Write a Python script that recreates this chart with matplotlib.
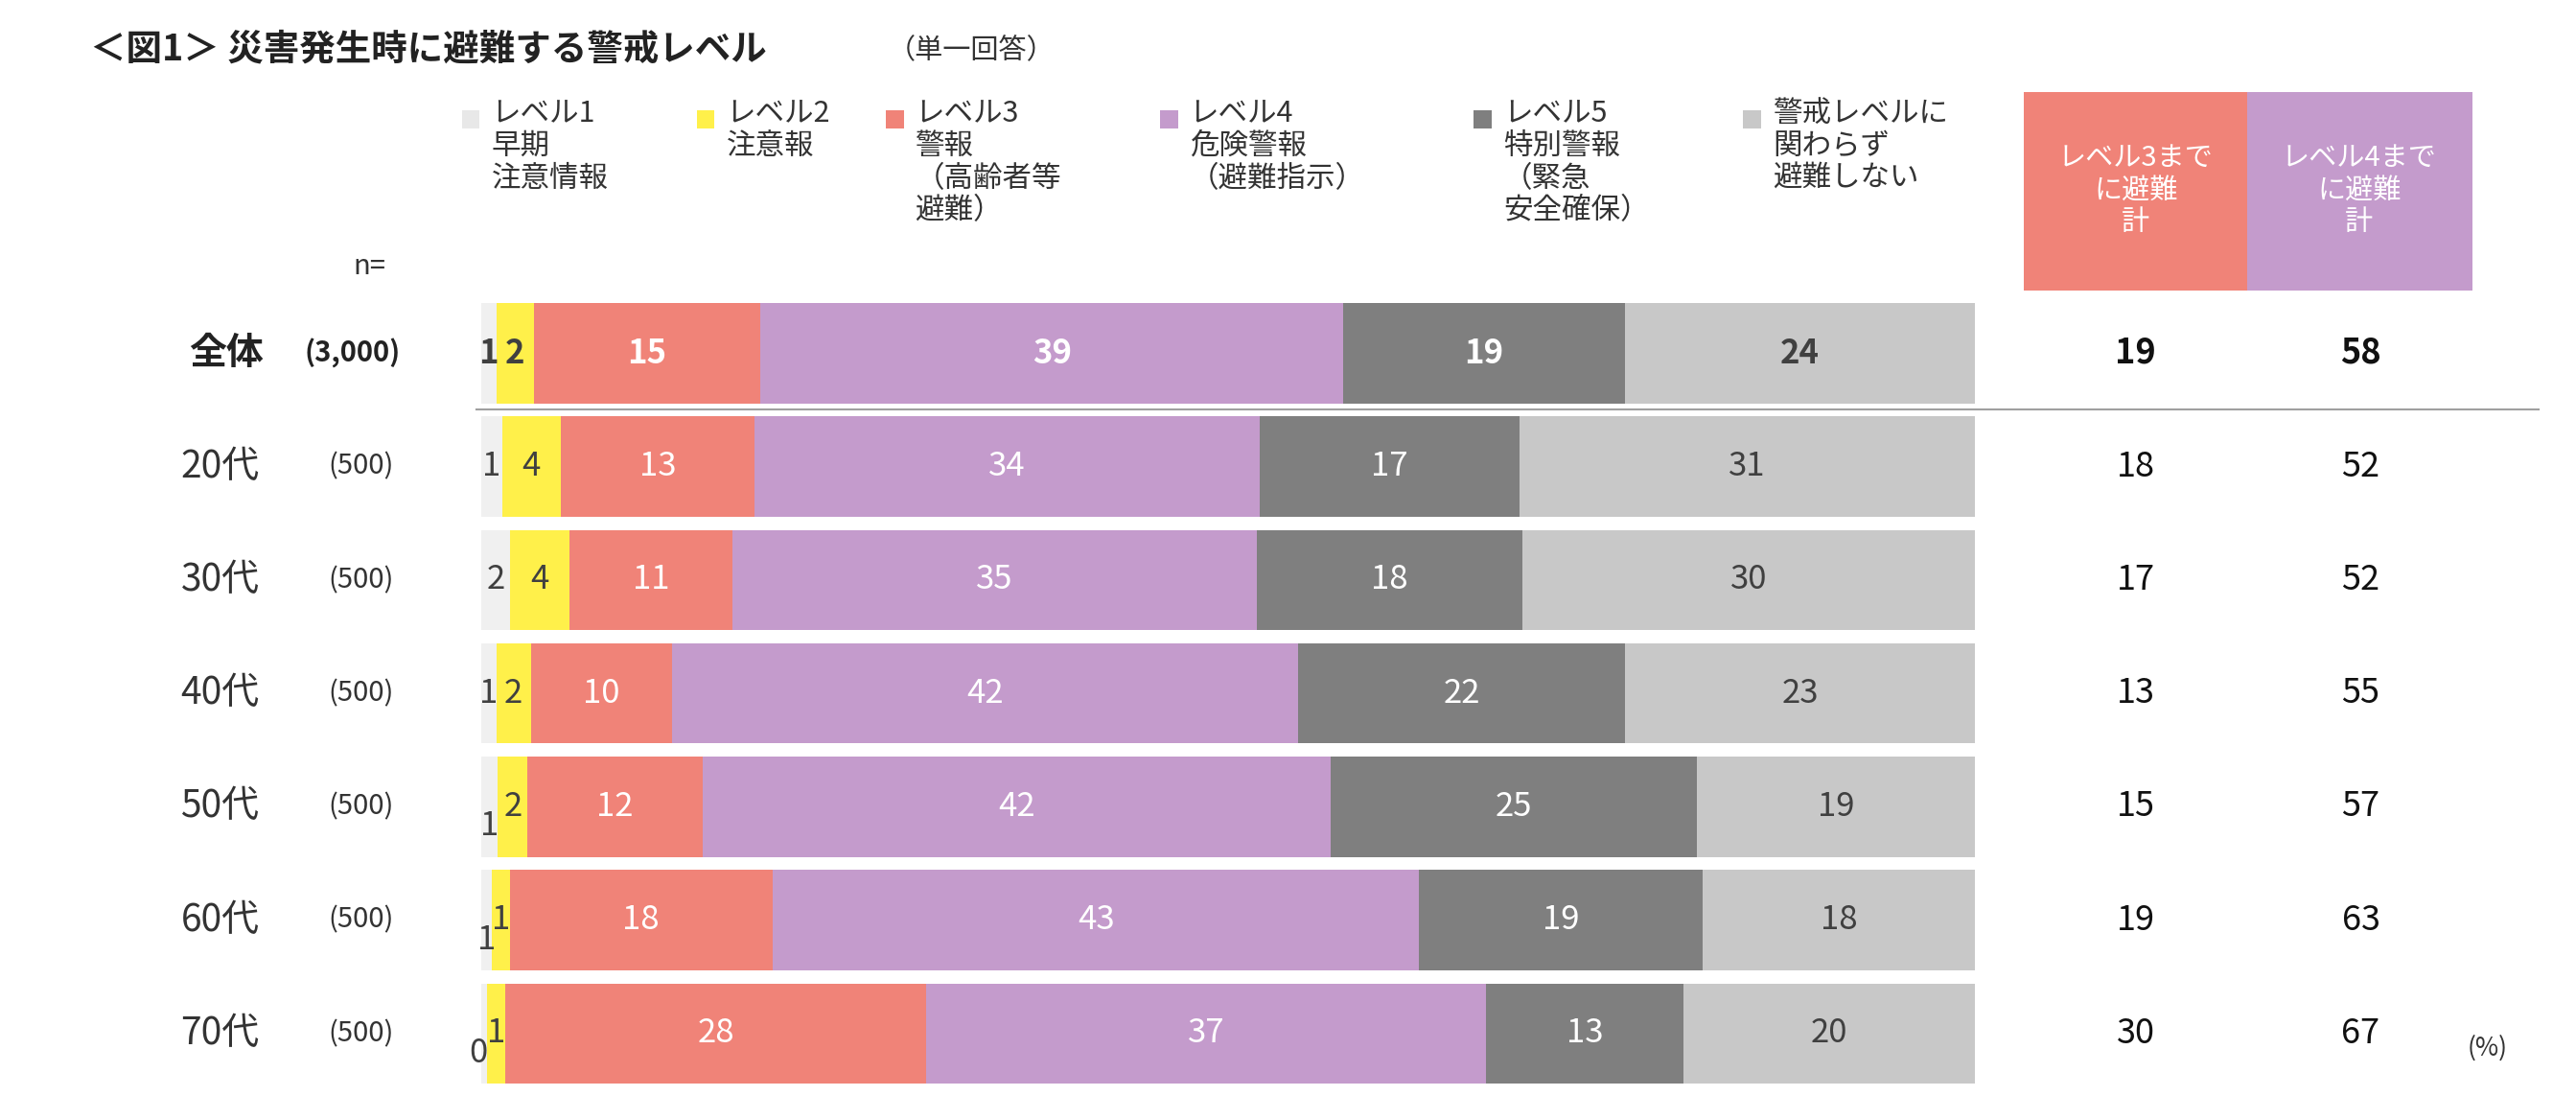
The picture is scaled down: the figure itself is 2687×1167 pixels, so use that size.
import matplotlib
matplotlib.use("Agg")
import matplotlib.pyplot as plt
from matplotlib.patches import Rectangle

plt.rcParams['font.family'] = ['Noto Sans CJK JP', 'DejaVu Sans']

rows = ["全体", "20代", "30代", "40代", "50代", "60代", "70代"]
ns = ["(3,000)", "(500)", "(500)", "(500)", "(500)", "(500)", "(500)"]
series = ["レベル1\n早期\n注意情報", "レベル2\n注意報", "レベル3\n警報\n（高齢者等\n避難）",
          "レベル4\n危険警報\n（避難指示）", "レベル5\n特別警報\n（緊急\n安全確保）", "警戒レベルに\n関わらず\n避難しない"]
# estimated shares (for widths)
vals = [
    [1.0, 2.5, 15.2, 39.0, 18.9, 23.4],
    [1.4, 3.9, 13.0, 33.8, 17.4, 30.5],
    [1.9, 4.0, 10.9, 35.1, 17.8, 30.3],
    [1.0, 2.3, 9.5, 41.9, 21.9, 23.4],
    [1.1, 2.0, 11.7, 42.1, 24.5, 18.6],
    [0.7, 1.2, 17.6, 43.3, 19.0, 18.2],
    [0.4, 1.2, 28.2, 37.5, 13.2, 19.5],
]
labels = [
    [1, 2, 15, 39, 19, 24],
    [1, 4, 13, 34, 17, 31],
    [2, 4, 11, 35, 18, 30],
    [1, 2, 10, 42, 22, 23],
    [1, 2, 12, 42, 25, 19],
    [1, 1, 18, 43, 19, 18],
    [0, 1, 28, 37, 13, 20],
]
upto3 = [19, 18, 17, 13, 15, 19, 30]
upto4 = [58, 52, 52, 55, 57, 63, 67]
colors = ["#f0f0f0", "#fff04a", "#f08378", "#c49bcc", "#7f7f7f", "#c8c8c8"]
txtcol = ["#404040", "#404040", "white", "white", "white", "#404040"]

W, H = 1568, 681
fig = plt.figure(figsize=(26.87, 11.67), dpi=100)
ax = fig.add_axes([0, 0, 1, 1])
sx = 9.09
ax.set_xlim(-293 / sx, (W - 293) / sx)
ax.set_ylim(H, 0)
ax.axis('off')

def X(px):
    return (px - 293) / sx

ycent = [215 + 69 * i for i in range(7)]
FS_V = 25
for i, (r, y) in enumerate(zip(rows, ycent)):
    left = 0
    bold = (i == 0)
    for j in range(6):
        v = vals[i][j]
        ax.barh(y, v, left=left, height=61, color=colors[j], linewidth=0)
        dy = 0
        if j == 0 and i >= 4:
            dy = 12
        cx = left + v / 2
        if j == 0 and i == 6:
            cx = left - 0.2
        ax.text(cx, y + dy, str(labels[i][j]), ha='center', va='center', fontsize=FS_V,
                color=txtcol[j], fontweight='bold' if bold else 'normal')
        left += v
    if i == 0:
        ax.text(X(115), y, r, ha='left', va='center', fontsize=28, fontweight='bold', color='#222222')
        ax.text(X(185), y, ns[i], ha='left', va='center', fontsize=21, fontweight='bold', color='#222222')
    else:
        ax.text(X(110), y, r, ha='left', va='center', fontsize=28, color='#333333')
        ax.text(X(200), y, ns[i], ha='left', va='center', fontsize=21, color='#333333')
    ax.text(X(1300), y, str(upto3[i]), ha='center', va='center', fontsize=FS_V + 1,
            fontweight='bold' if bold else 'normal', color='#111111')
    ax.text(X(1437), y, str(upto4[i]), ha='center', va='center', fontsize=FS_V + 1,
            fontweight='bold' if bold else 'normal', color='#111111')

ax.plot([X(290), X(1545)], [249, 249], color='#a0a0a0', lw=1.5)

# header boxes
ax.add_patch(Rectangle((X(1232), 56), 136 / sx, 121, color="#f08378", lw=0))
ax.add_patch(Rectangle((X(1368), 56), 137 / sx, 121, color="#c49bcc", lw=0))
ax.text(X(1300), 116, "レベル3まで\nに避難\n計", ha='center', va='center', color='white',
        fontsize=21, linespacing=1.15)
ax.text(X(1436), 116, "レベル4まで\nに避難\n計", ha='center', va='center', color='white',
        fontsize=21, linespacing=1.15)

# legend
lx = [287, 430, 545, 712, 903, 1067]
for j in range(6):
    ax.add_patch(Rectangle((X(lx[j] - 6), 67), 11 / sx, 11, color=colors[j] if j != 0 else "#e8e8e8", lw=0))
    ax.text(X(lx[j] + 12), 60, series[j], ha='left', va='top', fontsize=22, color='#333333',
            linespacing=1.12)

ax.text(X(215), 162, "n=", ha='left', va='center', fontsize=21, color='#333333')
ax.text(X(1502), 638, "(%)", ha='left', va='center', fontsize=19, color='#333333')
ax.text(X(55), 30, "＜図1＞ 災害発生時に避難する警戒レベル", ha='left', va='center',
        fontsize=27, fontweight='bold', color='#222222')
ax.text(X(540), 31, "（単一回答）", ha='left', va='center', fontsize=21, color='#333333')

fig.savefig("out.png", dpi=100, facecolor='white')
